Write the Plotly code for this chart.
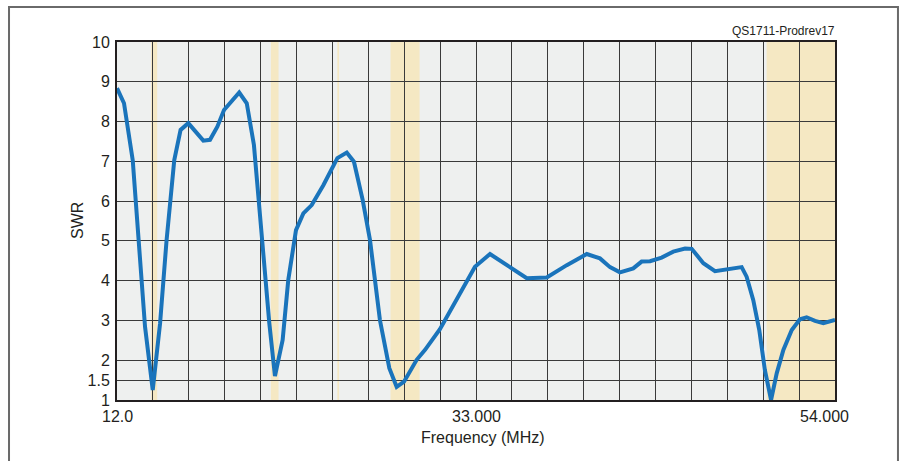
import plotly.graph_objects as go

# Frequency (MHz) and SWR
freq = [12.0, 12.41, 12.92, 13.44, 13.64, 14.09, 14.52, 14.9, 15.35, 15.72, 16.17,
        17.05, 17.44, 17.87, 18.26, 19.15, 19.59, 20.01, 20.46, 20.91, 21.24, 21.69,
        22.02, 22.47, 22.9, 23.39, 24.07, 24.89, 25.44, 25.86, 26.37, 26.8, 27.38,
        27.93, 28.36, 28.79, 29.53, 30.02, 30.89, 31.87, 32.94, 33.82, 34.8, 35.97,
        37.14, 38.31, 39.48, 40.25, 40.84, 41.42, 42.2, 42.69, 43.18, 43.86, 44.54,
        45.23, 45.62, 46.3, 46.98, 47.66, 48.54, 48.83, 49.22, 49.57, 49.9, 50.26,
        50.59, 50.98, 51.47, 51.95, 52.34, 52.83, 53.32, 54.0]
swr = [8.84, 8.46, 7.03, 3.93, 2.84, 1.25, 2.93, 5.02, 7.03, 7.79, 7.96,
       7.52, 7.54, 7.87, 8.29, 8.73, 8.46, 7.41, 5.11, 2.93, 1.6, 2.51,
       4.02, 5.27, 5.69, 5.9, 6.4, 7.08, 7.22, 6.99, 6.03, 5.02, 3.01,
       1.8, 1.33, 1.46, 2.01, 2.26, 2.78, 3.51, 4.35, 4.67, 4.39, 4.06,
       4.08, 4.39, 4.67, 4.56, 4.34, 4.21, 4.31, 4.48, 4.49, 4.58, 4.73,
       4.81, 4.8, 4.44, 4.24, 4.29, 4.34, 4.1, 3.51, 2.76, 1.75, 1.0,
       1.67, 2.26, 2.76, 3.03, 3.08, 2.99, 2.93, 3.01]

# Amateur bands shaded (MHz)
band_start = [14.0, 21.0, 24.89, 28.0, 50.0]
band_end = [14.35, 21.45, 24.99, 29.7, 54.0]

y_ticks = [1, 1.5, 2, 3, 4, 5, 6, 7, 8, 9, 10]
y_labels = ["1", "1.5", "2", "3", "4", "5", "6", "7", "8", "9", "10"]
x_label_vals = [12.0, 33.0, 54.0]
x_label_text = ["12.0", "33.000", "54.000"]
x_label_shift = [0, 0, -11]
x_grid_step = 2.1

FONT = "Liberation Sans, Arial, sans-serif"
TXT = "#231f20"

fig = go.Figure()
fig.add_trace(go.Scatter(x=freq, y=swr, mode="lines",
                         line=dict(color="#1a74bb", width=4),
                         hoverinfo="skip", showlegend=False))

for s, e in zip(band_start, band_end):
    fig.add_shape(type="rect", xref="x", yref="paper", x0=s, x1=e, y0=0, y1=1,
                  fillcolor="#f5e8c3", line=dict(width=0), layer="below")

# outer frame
fig.add_shape(type="rect", xref="paper", yref="paper",
              x0=-0.1504, x1=1.0877, y0=-0.25, y1=1.0978,
              line=dict(color="#6a6a6a", width=2), fillcolor="rgba(0,0,0,0)")

for v, t, sh in zip(x_label_vals, x_label_text, x_label_shift):
    fig.add_annotation(x=v, y=0, xref="x", yref="paper", text=t, showarrow=False,
                       xanchor="center", yanchor="top", yshift=-6, xshift=sh,
                       font=dict(family=FONT, size=16, color=TXT))

fig.add_annotation(x=0.5, y=0, xref="paper", yref="paper", text="Frequency (MHz)",
                   showarrow=False, xanchor="center", yanchor="top", yshift=-27,
                   xshift=7, font=dict(family=FONT, size=16, color=TXT))
fig.add_annotation(x=0, y=0.5, xref="paper", yref="paper", text="SWR",
                   showarrow=False, xanchor="center", yanchor="middle", xshift=-40,
                   textangle=-90, font=dict(family=FONT, size=16, color=TXT))
fig.add_annotation(x=1, y=1, xref="paper", yref="paper", text="QS1711-Prodrev17",
                   showarrow=False, xanchor="right", yanchor="bottom", yshift=2,
                   xshift=2, font=dict(family=FONT, size=12, color=TXT))

fig.update_layout(
    width=906, height=461,
    margin=dict(l=117, r=71, t=42, b=61),
    paper_bgcolor="white", plot_bgcolor="#eef0ef",
    font=dict(family=FONT, size=16, color=TXT),
    xaxis=dict(range=[12, 54], tickvals=x_label_vals, showticklabels=False,
               showgrid=True, gridcolor="#3a3a3a", gridwidth=1,
               minor=dict(dtick=x_grid_step, tick0=12, showgrid=True,
                          gridcolor="#3a3a3a", gridwidth=1),
               showline=True, linecolor=TXT, linewidth=2, mirror=True,
               zeroline=False, ticks=""),
    yaxis=dict(range=[1, 10], tickvals=y_ticks, ticktext=y_labels,
               showgrid=True, gridcolor="#3a3a3a", gridwidth=1,
               showline=True, linecolor=TXT, linewidth=2, mirror=True,
               zeroline=False, ticks="", ticklabelstandoff=2,
               tickfont=dict(family=FONT, size=16, color=TXT)),
)

fig.write_html("out.html", config={"displayModeBar": False},
               post_script="document.body.style.margin='0';"
                           "document.body.style.overflow='hidden';")
